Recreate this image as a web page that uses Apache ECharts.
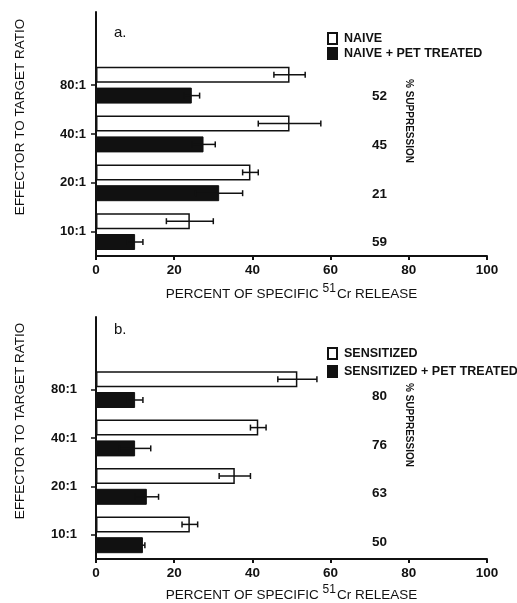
<!DOCTYPE html>
<html>
<head>
<meta charset="utf-8">
<script src="https://cdn.jsdelivr.net/npm/echarts@6/dist/echarts.min.js"></script>
<style>
  html, body { margin: 0; padding: 0; background: #fff; }
  #chart { width: 517px; height: 603px; }
</style>
</head>
<body>
<div id="chart"></div>
<script>
// categories (bottom to top), last one is the empty band above the bars
const ratios = ["10:1", "20:1", "40:1", "80:1", ""];
const xTicks = [0, 20, 40, 60, 80, 100];

// panel a
const naive = [24, 39.5, 49.5, 49.5];
const naiveErr = [6, 2, 8, 4];
const naivePet = [10, 31.5, 27.5, 24.5];
const naivePetErr = [2, 6, 3, 2];
const naiveSupp = [59, 21, 45, 52];

// panel b
const sens = [24, 35.5, 41.5, 51.5];
const sensErr = [2, 4, 2, 5];
const sensPet = [12, 13, 10, 10];
const sensPetErr = [0.5, 3, 4, 2];
const sensSupp = [50, 63, 76, 80];

const black = "#111";
const font = "Liberation Sans, Arial, sans-serif";

let chart = echarts.init(document.getElementById("chart"));

let mkGrid = (top) => ({ left: 96, top: top, width: 391, height: 244, containLabel: false });

let mkX = (idx, nameGap) => ({
  type: "value",
  gridIndex: idx,
  min: xTicks[0],
  max: xTicks[xTicks.length - 1],
  interval: xTicks[1] - xTicks[0],
  splitLine: { show: false },
  axisLine: { show: true, lineStyle: { color: black, width: 2 } },
  axisTick: { show: true, length: 4, lineStyle: { color: black, width: 2 } },
  axisLabel: { color: black, fontSize: 13.5, fontWeight: "bold", fontFamily: font, margin: 7 },
  name: "{t|PERCENT OF SPECIFIC }{s|51}{t|Cr RELEASE}",
  nameLocation: "middle",
  nameGap: nameGap,
  nameTextStyle: {
    rich: {
      t: { fontSize: 13.5, color: black, fontFamily: font, lineHeight: 18, verticalAlign: "bottom" },
      s: { fontSize: 12, color: black, fontFamily: font, lineHeight: 18, verticalAlign: "top", padding: [0, 1, 6, 0] },
    },
  },
});

let mkY = (idx, labelMargin) => ({
  type: "category",
  gridIndex: idx,
  data: ratios,
  axisLine: { show: true, lineStyle: { color: black, width: 2 } },
  axisTick: {
    show: true,
    alignWithLabel: true,
    length: 5,
    interval: (i, v) => v !== "",
    lineStyle: { color: black, width: 1.5 },
  },
  axisLabel: { color: black, fontSize: 13, fontWeight: "bold", fontFamily: font, margin: labelMargin },
  splitLine: { show: false },
  name: "EFFECTOR TO TARGET RATIO",
  nameLocation: "middle",
  nameGap: 69,
  nameTextStyle: { color: black, fontSize: 13.5, fontFamily: font, padding: [0, 0, 0, 34] },
});

const barW = 16;
const barGap = 0.3;

let barSeries = (name, data, idx, filled) => ({
  name: name,
  type: "bar",
  xAxisIndex: idx,
  yAxisIndex: idx,
  data: data,
  barWidth: barW,
  barGap: barGap * 100 + "%",
  itemStyle: filled
    ? { color: black, borderColor: black, borderWidth: 1 }
    : { color: "#fff", borderColor: black, borderWidth: 1.5 },
  emphasis: { disabled: true },
});

// error bars drawn over the bars: [value, err, category index, side]
let errSeries = (idx, top, topErr, bottom, bottomErr) => {
  let data = [];
  top.forEach((v, i) => data.push([v, topErr[i], i, -1]));
  bottom.forEach((v, i) => data.push([v, bottomErr[i], i, 1]));
  return {
    type: "custom",
    xAxisIndex: idx,
    yAxisIndex: idx,
    data: data,
    z: 5,
    silent: true,
    renderItem: (params, api) => {
      let off = (barW * (1 + barGap)) / 2;
      let c = api.coord([api.value(0), api.value(2)]);
      let y = c[1] + api.value(3) * off;
      let x1 = api.coord([api.value(0) - api.value(1), 0])[0];
      let x2 = api.coord([api.value(0) + api.value(1), 0])[0];
      let st = { stroke: black, lineWidth: 1.5 };
      return {
        type: "group",
        children: [
          { type: "line", shape: { x1: x1, y1: y, x2: x2, y2: y }, style: st },
          { type: "line", shape: { x1: x1, y1: y - 3, x2: x1, y2: y + 3 }, style: st },
          { type: "line", shape: { x1: x2, y1: y - 3, x2: x2, y2: y + 3 }, style: st },
        ],
      };
    },
  };
};

let suppSeries = (idx, vals, dy) => ({
  type: "scatter",
  xAxisIndex: idx,
  yAxisIndex: idx,
  symbolSize: 0,
  silent: true,
  itemStyle: { opacity: 1 },
  data: vals.map((v, i) => [72.5, i, v]),
  label: {
    show: true,
    position: "inside",
    offset: [0, dy],
    formatter: (p) => p.value[2],
    color: black,
    fontSize: 13.5,
    fontWeight: "bold",
    fontFamily: font,
  },
});

let legendStyle = (top, gap, names) => ({
  data: names,
  orient: "vertical",
  left: 327,
  top: top,
  padding: 0,
  itemWidth: 9,
  itemHeight: 11,
  itemGap: gap,
  icon: "rect",
  selectedMode: false,
  textStyle: { color: black, fontSize: 12.5, fontWeight: "bold", fontFamily: font, padding: [0, 0, 0, 2] },
});

let suppTitle = (y) => ({
  type: "text",
  x: 409,
  y: y,
  rotation: -Math.PI / 2,
  style: { text: "% SUPPRESSION", fill: black, font: "bold 10px " + font, textAlign: "center", textVerticalAlign: "middle" },
});

let option = {
  animation: false,
  backgroundColor: "#fff",
  grid: [mkGrid(12), mkGrid(317)],
  xAxis: [mkX(0, 27), mkX(1, 25)],
  yAxis: [mkY(0, 10), mkY(1, 19)],
  legend: [
    legendStyle(32, 2, ["NAIVE", "NAIVE + PET TREATED"]),
    legendStyle(347, 5, ["SENSITIZED", "SENSITIZED + PET TREATED"]),
  ],
  graphic: [
    { type: "text", x: 114, y: 25, style: { text: "a.", fill: black, font: "15px " + font } },
    { type: "text", x: 114, y: 322, style: { text: "b.", fill: black, font: "15px " + font } },
    suppTitle(121),
    suppTitle(425),
  ],
  series: [
    barSeries("NAIVE", naive, 0, false),
    barSeries("NAIVE + PET TREATED", naivePet, 0, true),
    errSeries(0, naive, naiveErr, naivePet, naivePetErr),
    suppSeries(0, naiveSupp, 11),
    barSeries("SENSITIZED", sens, 1, false),
    barSeries("SENSITIZED + PET TREATED", sensPet, 1, true),
    errSeries(1, sens, sensErr, sensPet, sensPetErr),
    suppSeries(1, sensSupp, 7),
  ],
};

chart.setOption(option);
</script>
</body>
</html>
